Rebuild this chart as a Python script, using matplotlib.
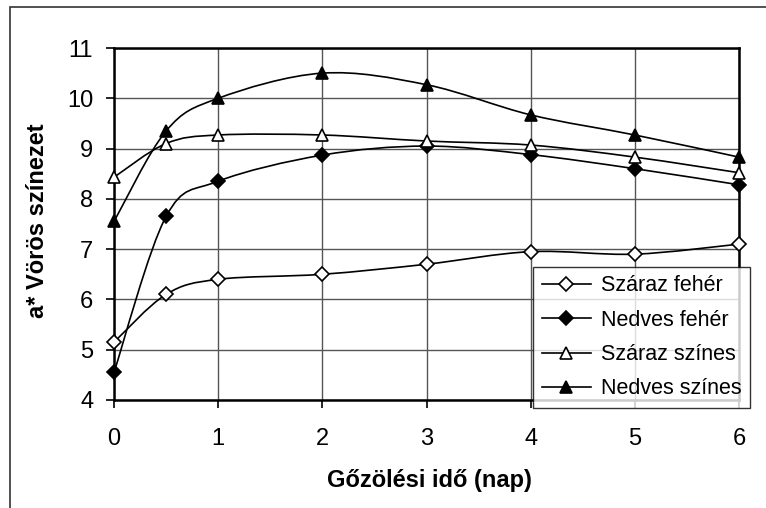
import numpy as np
import matplotlib
matplotlib.use("Agg")
import matplotlib.pyplot as plt
from matplotlib.path import Path
from matplotlib.patches import PathPatch, Rectangle
from matplotlib.lines import Line2D

plt.rcParams['font.family'] = ['Liberation Sans', 'DejaVu Sans']

# data
days = [0, 0.5, 1, 2, 3, 4, 5, 6]
szaraz_feher = [5.15, 6.1, 6.4, 6.5, 6.7, 6.95, 6.9, 7.1]
nedves_feher = [4.55, 7.65, 8.35, 8.87, 9.05, 8.88, 8.6, 8.28]
szaraz_szines = [8.43, 9.1, 9.27, 9.27, 9.15, 9.07, 8.83, 8.52]
nedves_szines = [7.55, 9.35, 10.0, 10.5, 10.27, 9.67, 9.27, 8.83]
labels = ["Száraz fehér", "Nedves fehér", "Száraz színes", "Nedves színes"]
x_ticks = [0, 1, 2, 3, 4, 5, 6]
y_ticks = [4, 5, 6, 7, 8, 9, 10, 11]


def smooth_path(xs, ys):
    # Excel-like smoothed line (Catmull-Rom as cubic Bezier)
    pts = np.column_stack([xs, ys]).astype(float)
    n = len(pts)
    verts = [pts[0]]
    codes = [Path.MOVETO]
    for i in range(n - 1):
        p0 = pts[max(i - 1, 0)]
        p1 = pts[i]
        p2 = pts[i + 1]
        p3 = pts[min(i + 2, n - 1)]
        verts += [p1 + (p2 - p0) / 6, p2 - (p3 - p1) / 6, p2]
        codes += [Path.CURVE4] * 3
    return Path(verts, codes)


fig = plt.figure(figsize=(7.66, 5.08), dpi=100)
ax = fig.add_axes([114 / 766, 1 - 400 / 508, 625 / 766, 352 / 508])

# outer chart border
fig.patches.append(Rectangle((10 / 766, -0.05), 1.0, 1 - 7 / 508 + 0.05,
                             transform=fig.transFigure, fill=False,
                             edgecolor='#333333', linewidth=1.2))

series = [szaraz_feher, nedves_feher, szaraz_szines, nedves_szines]
markers = ['D', 'D', '^', '^']
faces = ['white', 'black', 'white', 'black']
msizes = [7, 7, 9, 9]

handles = []
for ys, m, fc, ms, lab in zip(series, markers, faces, msizes, labels):
    ax.add_patch(PathPatch(smooth_path(days, ys), fill=False,
                           edgecolor='black', linewidth=1.2, zorder=3))
    ax.plot(days, ys, linestyle='none', marker=m, markersize=ms,
            markerfacecolor=fc, markeredgecolor='black',
            markeredgewidth=1.2, zorder=4, clip_on=False)
    handles.append(Line2D([], [], color='black', linewidth=1.2, marker=m,
                          markersize=ms, markerfacecolor=fc,
                          markeredgecolor='black', markeredgewidth=1.2,
                          label=lab))

ax.set_xlim(0, 6)
ax.set_ylim(4, 11)
ax.set_xticks(x_ticks)
ax.set_yticks(y_ticks)
ax.grid(True, color='#555555', linewidth=1.0)
ax.set_axisbelow(True)
for s in ax.spines.values():
    s.set_linewidth(1.8)
    s.set_color('black')
ax.tick_params(axis='both', direction='out', length=6, width=1.2,
               labelsize=17)
ax.tick_params(axis='x', pad=14)
ax.tick_params(axis='y', pad=9)

fig.text(38 / 766, 1 - 221 / 508, "a* Vörös színezet", rotation=90,
         ha='center', va='center', fontsize=17, fontweight='bold')
fig.text(429 / 766, 1 - 480 / 508, "Gőzölési idő (nap)",
         ha='center', va='center', fontsize=17, fontweight='bold')

leg = fig.legend(handles=handles, loc='lower left',
                 bbox_to_anchor=(533 / 766, 1 - 408 / 508),
                 fontsize=15.5, frameon=True, fancybox=False,
                 handlelength=2.3, handletextpad=0.45, labelspacing=0.62,
                 borderpad=0.4, borderaxespad=0)
leg.get_frame().set_edgecolor('black')
leg.get_frame().set_linewidth(1.0)
leg.set_zorder(10)

fig.savefig("out.png", dpi=100)
